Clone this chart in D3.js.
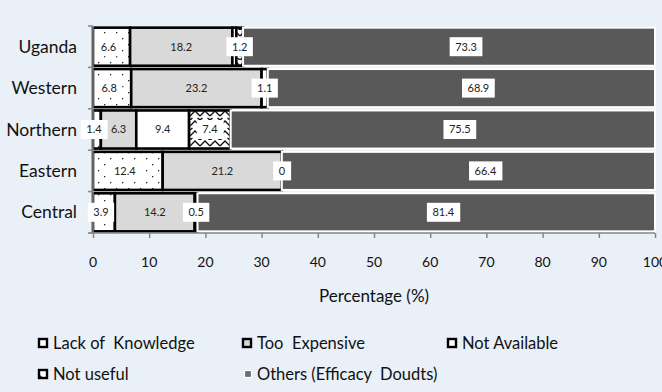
<!DOCTYPE html>
<html><head><meta charset="utf-8">
<script src="https://cdn.jsdelivr.net/npm/d3@7"></script>
<style>body{margin:0;background:#fff}svg{display:block}</style>
</head><body>
<svg id="chart" width="662" height="392"></svg>
<script>
// ---- data ----
const categories = ["Uganda", "Western", "Northern", "Eastern", "Central"];
const seriesNames = ["Lack of  Knowledge", "Too  Expensive", "Not Available", "Not useful", "Others (Efficacy  Doudts)"];
const lackOfKnowledge = [6.6, 6.8, 1.4, 12.4, 3.9];
const tooExpensive = [18.2, 23.2, 6.3, 21.2, 14.2];
const notAvailable = [0.7, 1.1, 9.4, 0, 0.5];
const notUseful = [1.2, null, 7.4, null, null];
const others = [73.3, 68.9, 75.5, 66.4, 81.4];
const hiddenLabels = [["Uganda", 2]]; // [category, series index] whose label is not shown
const xTicks = [0, 10, 20, 30, 40, 50, 60, 70, 80, 90, 100];

const seriesValues = [lackOfKnowledge, tooExpensive, notAvailable, notUseful, others];

const W = 662, H = 392;
const svg = d3.select("#chart");
const FONT = "Lato, 'Open Sans', sans-serif";

// background
svg.append("rect").attr("width", W).attr("height", H).attr("fill", "#e9f0f8");

const defs = svg.append("defs");
// dotted pattern
const pd = defs.append("pattern").attr("id", "dots").attr("patternUnits", "userSpaceOnUse")
  .attr("width", 12).attr("height", 12);
pd.append("rect").attr("width", 12).attr("height", 12).attr("fill", "#fff");
pd.append("rect").attr("x", 2).attr("y", 2).attr("width", 1.3).attr("height", 1.3).attr("fill", "#222");
pd.append("rect").attr("x", 8).attr("y", 8).attr("width", 1.3).attr("height", 1.3).attr("fill", "#222");
// zigzag lattice pattern
const pz = defs.append("pattern").attr("id", "zig").attr("patternUnits", "userSpaceOnUse")
  .attr("width", 10).attr("height", 10);
pz.append("rect").attr("width", 10).attr("height", 10).attr("fill", "#fff");
pz.append("path").attr("d", "M0,6 L5,1 L10,6 M0,10 L2.5,8 M7.5,8 L10,10").attr("fill", "none").attr("stroke", "#111").attr("stroke-width", 1.4);
// legend pattern for Not useful
const pl = defs.append("pattern").attr("id", "nu").attr("patternUnits", "objectBoundingBox")
  .attr("width", 1).attr("height", 1);
pl.append("rect").attr("width", 10).attr("height", 10).attr("fill", "#fff");
pl.append("path").attr("d", "M0,10 L0,4 L6,10 Z").attr("fill", "#222");

const fills = ["url(#dots)", "#d9d9d9", "#ffffff", "url(#zig)", "#595959"];
const strokes = ["#000", "#000", "#000", "#000", "#ffffff"];

const x = d3.scaleLinear().domain([0, 100]).range([93, 655]);
const y = d3.scaleBand().domain(categories).range([26, 233]).paddingInner(0.08).paddingOuter(0.04);

// stack
const rows = categories.map((c, i) => {
  const o = { cat: c };
  seriesValues.forEach((arr, k) => o["s" + k] = arr[i] == null ? 0 : arr[i]);
  return o;
});
const keys = seriesValues.map((_, k) => "s" + k);
const stacked = d3.stack().keys(keys)(rows);

const gBars = svg.append("g");
stacked.forEach((layer, k) => {
  gBars.append("g").selectAll("rect").data(layer).join("rect")
    .filter(d => d[1] - d[0] > 0)
    .attr("x", d => x(d[0]))
    .attr("y", d => y(d.data.cat))
    .attr("width", d => x(d[1]) - x(d[0]))
    .attr("height", y.bandwidth())
    .attr("fill", fills[k])
    .attr("stroke", strokes[k])
    .attr("stroke-width", k === 4 ? 2 : 2.6);
});

// axes
const axisColor = "#868686";
const gx = svg.append("g").attr("transform", `translate(0,${233})`)
  .call(d3.axisBottom(x).tickValues(xTicks).tickSize(5).tickFormat(""));
gx.select(".domain").attr("stroke", axisColor).attr("stroke-width", 1.5).attr("d", `M89,0H${x(100)}`);
gx.selectAll(".tick line").attr("stroke", axisColor).attr("stroke-width", 1.5);
svg.append("g").selectAll("text").data(xTicks).join("text")
  .attr("x", d => x(d)).attr("y", 267)
  .attr("text-anchor", "middle").attr("font-family", FONT).attr("font-size", 14).attr("fill", "#111")
  .text(d => d);

// y axis
const yEdges = categories.map(c => y(c) - y.step() * y.paddingInner() / 2).concat([233]);
svg.append("line").attr("x1", x(0)).attr("x2", x(0)).attr("y1", yEdges[0]).attr("y2", 233)
  .attr("stroke", axisColor).attr("stroke-width", 1.5);
svg.append("g").selectAll("line").data(yEdges).join("line")
  .attr("x1", x(0) - 5).attr("x2", x(0)).attr("y1", d => d).attr("y2", d => d)
  .attr("stroke", axisColor).attr("stroke-width", 1.5);
svg.append("g").selectAll("text").data(categories).join("text")
  .attr("x", 77).attr("y", d => y(d) + y.bandwidth() / 2)
  .attr("dy", "0.35em").attr("text-anchor", "end")
  .attr("font-family", FONT).attr("font-size", 17.5).attr("fill", "#111")
  .text(d => d);

// data labels
const gLab = svg.append("g");
stacked.forEach((layer, k) => {
  layer.forEach((d, i) => {
    const v = seriesValues[k][i];
    if (v == null) return;
    if (hiddenLabels.some(h => h[0] === d.data.cat && h[1] === k)) return;
    let cx = x((d[0] + d[1]) / 2);
    if (k === 4) cx += 17;
    if (k === 0) cx -= 3;
    const cy = y(d.data.cat) + y.bandwidth() / 2;
    const txt = String(v);
    const g = gLab.append("g");
    const t = g.append("text").attr("x", cx).attr("y", cy).attr("dy", "0.35em")
      .attr("text-anchor", "middle").attr("font-family", FONT).attr("font-size", 11).attr("fill", "#222")
      .text(txt);
    if (k !== 1) {
      const bb = t.node().getBBox();
      g.insert("rect", "text").attr("x", bb.x - 5.5).attr("y", cy - 9.5)
        .attr("width", bb.width + 11).attr("height", 19).attr("fill", "#fff");
    }
  });
});

// x title
svg.append("text").attr("x", 374).attr("y", 302).attr("text-anchor", "middle")
  .attr("font-family", FONT).attr("font-size", 17).attr("fill", "#111").text("Percentage (%)");

// legend
const legendPos = [[38, 343], [242, 343], [447, 343], [38, 374], [242, 374]];
const gLeg = svg.append("g");
seriesNames.forEach((name, k) => {
  const [lx, ly] = legendPos[k];
  if (k === 4) {
    gLeg.append("rect").attr("x", lx + 2.5).attr("y", ly - 3.5).attr("width", 7).attr("height", 7)
      .attr("fill", "#6f6f6f").attr("stroke", "#fff").attr("stroke-width", 1.2);
  } else {
    const f = k === 1 ? "#d9d9d9" : (k === 3 ? "url(#nu)" : "#fff");
    gLeg.append("rect").attr("x", lx + 1).attr("y", ly - 4).attr("width", 8).attr("height", 8)
      .attr("fill", f).attr("stroke", "#000").attr("stroke-width", 2.4);
  }
  gLeg.append("text").attr("x", lx + 15).attr("y", ly).attr("dy", "0.35em")
    .attr("font-family", FONT).attr("font-size", 16.5).attr("fill", "#111")
    .style("white-space", "pre").attr("xml:space", "preserve").text(name);
});
</script>
</body></html>
